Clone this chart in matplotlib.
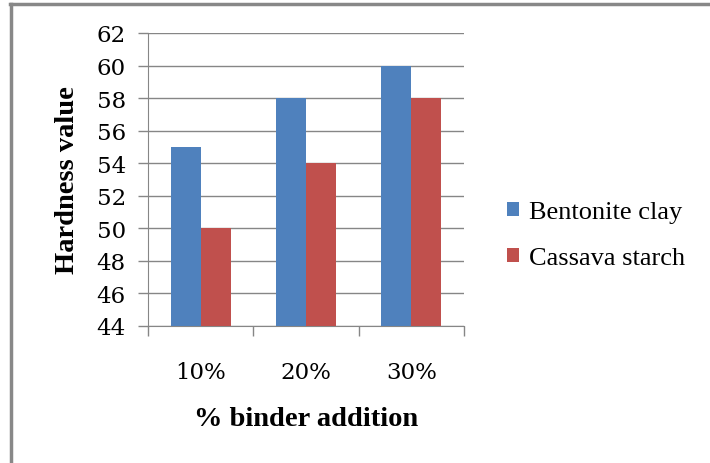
import numpy as np
import matplotlib.pyplot as plt
from matplotlib.lines import Line2D

# data
binder = ["10%", "20%", "30%"]
bentonite = [55, 58, 60]
cassava = [50, 54, 58]
yticks = [44, 46, 48, 50, 52, 54, 56, 58, 60, 62]

plt.rcParams['font.family'] = ['Liberation Serif', 'DejaVu Serif']

fig = plt.figure(figsize=(7.1, 4.64), dpi=100)
ax = fig.add_axes([148 / 710, 1 - 327 / 464, 316 / 710, 293 / 464])

x = np.arange(len(binder))
w = 0.286
ax.bar(x - w / 2, bentonite, w, color='#4F81BD', label='Bentonite clay', zorder=3)
ax.bar(x + w / 2, cassava, w, color='#C0504D', label='Cassava starch', zorder=3)

ax.set_ylim(44, 62)
ax.set_xlim(-0.5, 2.5)
ax.set_yticks(yticks)
ax.yaxis.grid(True, color='#868686', linewidth=1, zorder=0)
ax.set_axisbelow(True)

tickfont = dict(family=['DejaVu Serif'], size=16.5)

# category ticks sit at group boundaries
ax.set_xticks([-0.5, 0.5, 1.5, 2.5])
ax.set_xticklabels([])
ax.set_xticks(x, minor=True)
ax.set_xticklabels(binder, minor=True, fontdict=tickfont)
ax.set_yticklabels([str(t) for t in yticks], fontdict=tickfont)
ax.tick_params(axis='x', which='minor', length=0, pad=25)
ax.tick_params(axis='x', which='major', length=7, color='#868686', width=1)
ax.tick_params(axis='y', length=7, color='#868686', width=1, pad=9)

for s in ['top', 'right']:
    ax.spines[s].set_visible(False)
ax.spines['left'].set_color('#868686')
ax.spines['bottom'].set_color('#868686')

ax.set_ylabel('Hardness value', fontsize=20.5, fontweight='bold', labelpad=12)
ax.set_xlabel('% binder addition', fontsize=20.5, fontweight='bold', labelpad=17)

ax.legend(loc='center left', bbox_to_anchor=(1.06, 0.31), frameon=False,
          fontsize=19, handlelength=0.45, handleheight=0.45, handletextpad=0.4,
          labelspacing=0.9)

# outer frame (top and left edges visible)
fig.add_artist(Line2D([10 / 710, 1], [1 - 5 / 464, 1 - 5 / 464], color='#888888', lw=2.5))
fig.add_artist(Line2D([11 / 710, 11 / 710], [0, 1 - 5 / 464], color='#888888', lw=2.5))

fig.savefig('out.png', dpi=100)
